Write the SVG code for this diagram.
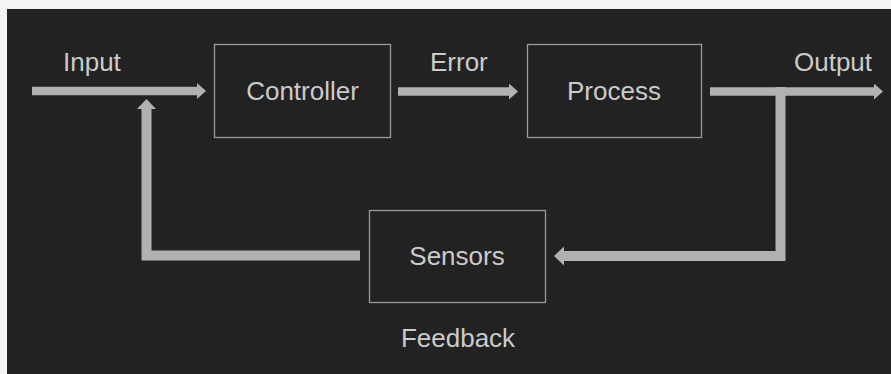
<svg xmlns="http://www.w3.org/2000/svg" width="891" height="374" viewBox="0 0 891 374">
  <style>
    .box { fill: none; stroke: #9a9a9a; stroke-width: 1.3; }
    .lbl { font-family: "Liberation Sans", Arial, sans-serif; font-size: 26px; fill: #cbcbcb; }
    .mid { text-anchor: middle; }
    .wire { fill: none; stroke: #b1b1b1; stroke-linejoin: miter; stroke-linecap: butt; }
  </style>
  <defs>
    <marker id="headS" markerUnits="userSpaceOnUse" markerWidth="10" markerHeight="17" refX="0" refY="8" orient="auto">
      <path d="M0,0 L9,8 L0,16 z" fill="#b1b1b1"/>
    </marker>
    <marker id="headL" markerUnits="userSpaceOnUse" markerWidth="11" markerHeight="20" refX="0" refY="9.5" orient="auto">
      <path d="M0,0 L10,9.5 L0,19 z" fill="#b1b1b1"/>
    </marker>
  </defs>
  <rect x="0" y="0" width="891" height="374" fill="#f4f4f4"/>
  <rect x="7" y="9" width="884" height="365" fill="#222222"/>

  <g id="connectors">
    <path class="wire" d="M32,91 H197" stroke-width="8.5" marker-end="url(#headS)"/>
    <path class="wire" d="M398,91.5 H509" stroke-width="8.5" marker-end="url(#headS)"/>
    <path class="wire" d="M710,91.5 H874" stroke-width="8.5" marker-end="url(#headS)"/>
    <path class="wire" d="M780.5,87 V256 H564" stroke-width="10" marker-end="url(#headL)"/>
    <path class="wire" d="M360,255.5 H146.5 V109" stroke-width="10" marker-end="url(#headL)"/>
  </g>

  <g id="controller">
    <rect class="box" x="214.5" y="44.5" width="176" height="93"/>
    <text class="lbl mid" x="302.5" y="100">Controller</text>
  </g>
  <g id="process">
    <rect class="box" x="527.5" y="44.5" width="174" height="93"/>
    <text class="lbl mid" x="614" y="100">Process</text>
  </g>
  <g id="sensors">
    <rect class="box" x="369.5" y="210.5" width="176" height="92"/>
    <text class="lbl mid" x="457" y="265">Sensors</text>
  </g>

  <g id="labels">
    <text class="lbl" x="63" y="71">Input</text>
    <text class="lbl" x="430" y="71">Error</text>
    <text class="lbl" x="794" y="71">Output</text>
    <text class="lbl mid" x="458" y="347">Feedback</text>
  </g>
</svg>
